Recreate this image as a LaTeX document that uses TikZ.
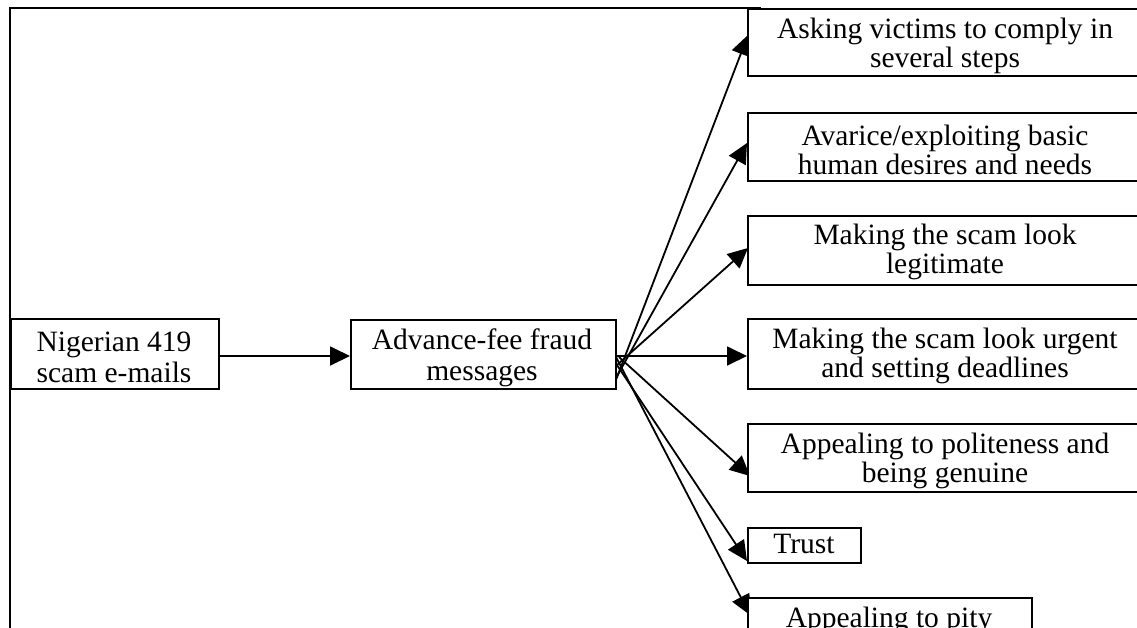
\documentclass[tikz,border=0pt]{standalone}
\usepackage{fontspec}
\setmainfont{Liberation Serif}
\usetikzlibrary{arrows.meta}
\tikzset{
  boxshape/.style={draw=black, fill=white, line width=2.4pt, inner sep=0pt, anchor=north west},
  lbl/.style={anchor=base, inner sep=0pt, font=\fontsize{29.5pt}{29pt}\selectfont},
  conn/.style={line width=1.8pt, -{Triangle[length=20pt,width=19pt]}},
  frameline/.style={line width=2.8pt, line cap=rect}
}
\begin{document}
\begin{tikzpicture}[x=1pt,y=-1pt]
\useasboundingbox (0,0) rectangle (1137,627);
\clip (0,0) rectangle (1137,627);
\fill[white] (0,0) rectangle (1137,627);

% frame
\coordinate (fb) at (10,660);
\coordinate (fc) at (10,8);
\coordinate (fr) at (760,8);
\draw[frameline] (fb) -- (fc) -- (fr);

% start and tip coordinates
\coordinate (s0) at (220,356);
\coordinate (t0) at (350,356);
\coordinate (s1) at (614,385);
\coordinate (t1) at (748,35);
\coordinate (s2) at (616,378);
\coordinate (t2) at (747,143);
\coordinate (s3) at (617,365);
\coordinate (t3) at (748,248);
\coordinate (s4) at (617,356);
\coordinate (t4) at (747,356);
\coordinate (s5) at (619,357);
\coordinate (t5) at (750,476);
\coordinate (s6) at (615,362);
\coordinate (t6) at (747,561);
\coordinate (s7) at (616,357);
\coordinate (t7) at (750,615);

% connectors
\draw[conn] (s0) -- (t0);
\draw[conn] (s1) -- (t1);
\draw[conn] (s2) -- (t2);
\draw[conn] (s3) -- (t3);
\draw[conn] (s4) -- (t4);
\draw[conn] (s5) -- (t5);
\draw[conn] (s6) -- (t6);
\draw[conn] (s7) -- (t7);

% boxes
\node[boxshape, minimum width=208pt, minimum height=70pt] (nig) at (10,318) {};
\node[boxshape, minimum width=265pt, minimum height=69pt] (adv) at (350,319) {};
\node[boxshape, minimum width=396pt, minimum height=67pt] (b1) at (747,8) {};
\node[boxshape, minimum width=396pt, minimum height=68pt] (b2) at (747,112) {};
\node[boxshape, minimum width=396pt, minimum height=69pt] (b3) at (747,215) {};
\node[boxshape, minimum width=396pt, minimum height=70pt] (b4) at (747,318) {};
\node[boxshape, minimum width=396pt, minimum height=68pt] (b5) at (747,423) {};
\node[boxshape, minimum width=113pt, minimum height=35pt] (b6) at (747,527) {};
\node[boxshape, minimum width=284pt, minimum height=60pt] (b7) at (747,597) {};

% labels
\node[lbl] (nigA) at (114,351) {Nigerian 419};
\node[lbl] (nigB) at (114,382) {scam e-mails};
\node[lbl] (advA) at (482,349) {Advance-fee fraud};
\node[lbl] (advB) at (482,380) {messages};
\node[lbl] (b1A) at (945,38) {Asking victims to comply in};
\node[lbl] (b1B) at (945,67) {several steps};
\node[lbl] (b2A) at (945,145) {Avarice/exploiting basic};
\node[lbl] (b2B) at (945,174) {human desires and needs};
\node[lbl] (b3A) at (945,244) {Making the scam look};
\node[lbl] (b3B) at (945,273) {legitimate};
\node[lbl] (b4A) at (945,348) {Making the scam look urgent};
\node[lbl] (b4B) at (945,377) {and setting deadlines};
\node[lbl] (b5A) at (945,453) {Appealing to politeness and};
\node[lbl] (b5B) at (945,482) {being genuine};
\node[lbl] (b6A) at (804,553) {Trust};
\node[lbl] (b7A) at (889,627) {Appealing to pity};
\end{tikzpicture}
\end{document}
